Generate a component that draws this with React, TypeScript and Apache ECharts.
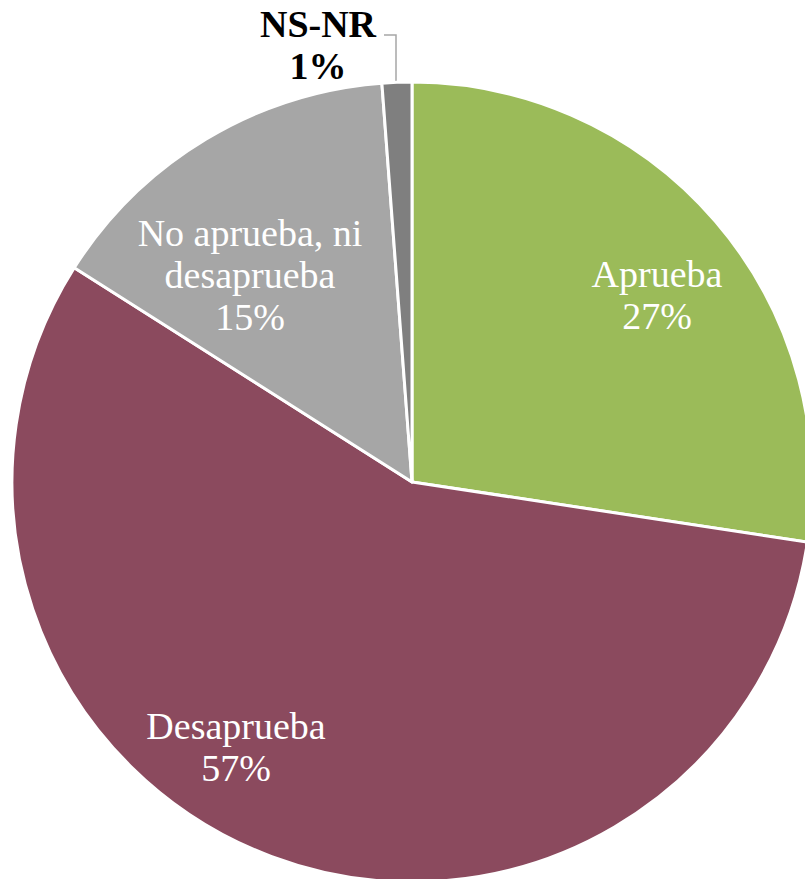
import React, { useEffect, useRef } from "react";
import * as echarts from "echarts";

const categories = ["Aprueba", "Desaprueba", "No aprueba, ni\ndesaprueba", "NS-NR"];
const values = [27.4, 56.6, 14.8, 1.2];
const colors = ["#9BBB59", "#8B4A5E", "#A6A6A6", "#7F7F7F"];

// label anchor positions (pixels) for each slice
const labelPos: [number, number][] = [
  [657, 295],
  [236, 747],
  [250, 275],
  [318, 45],
];

export default function App() {
  const ref = useRef<HTMLDivElement>(null);
  useEffect(() => {
    if (!ref.current) return;
    const chart = echarts.init(ref.current, null, { renderer: "svg" });
    const font = "'Liberation Serif', 'Times New Roman', serif";
    chart.setOption({
      animation: false,
      backgroundColor: "#ffffff",
      series: [
        {
          type: "pie",
          center: [412, 482],
          radius: [0, 400],
          startAngle: 90,
          clockwise: true,
          percentPrecision: 0,
          itemStyle: { borderColor: "#ffffff", borderWidth: 3 },
          label: {
            show: true,
            position: "inside",
            formatter: "{b}\n{d}%",
            color: "#ffffff",
            fontFamily: font,
            fontSize: 38,
            lineHeight: 42,
            align: "center",
          },
          labelLine: { show: false },
          labelLayout: (params: any) => {
            const p = labelPos[params.dataIndex];
            const res: any = { x: p[0], y: p[1], align: "center", verticalAlign: "middle" };
            if (params.dataIndex === 3) {
              res.labelLinePoints = [
                [396, 84],
                [396, 35],
                [384, 35],
              ];
            }
            return res;
          },
          data: categories.map((name, i) => {
            const d: any = { name, value: values[i], itemStyle: { color: colors[i] } };
            if (i === 3) {
              d.label = {
                position: "outside",
                color: "#000000",
                fontWeight: "bold",
                fontSize: 38,
                lineHeight: 42,
                fontFamily: font,
              };
              d.labelLine = { show: true, lineStyle: { color: "#A6A6A6", width: 1.5 } };
            }
            return d;
          }),
        },
      ],
    });
    return () => chart.dispose();
  }, []);
  return (
    <div
      ref={ref}
      style={{ position: "fixed", left: 0, top: 0, width: 805, height: 879 }}
    />
  );
}
